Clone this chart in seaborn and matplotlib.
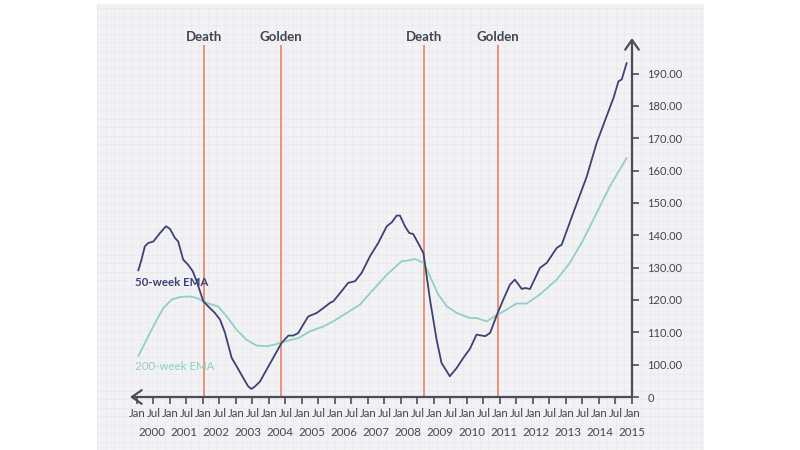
import numpy as np
import pandas as pd
import matplotlib
matplotlib.use("Agg")
import matplotlib.pyplot as plt
import seaborn as sns

# ---------------- data ----------------
ema50_x = [2000.04, 2000.14, 2000.24, 2000.34, 2000.50, 2000.70, 2000.88, 2001.00, 2001.15, 2001.25,
           2001.40, 2001.55, 2001.69, 2001.81, 2002.01, 2002.21, 2002.36, 2002.52, 2002.67, 2002.87,
           2003.02, 2003.22, 2003.37, 2003.47, 2003.58, 2003.73, 2003.93, 2004.13, 2004.38, 2004.59,
           2004.74, 2004.89, 2005.04, 2005.19, 2005.45, 2005.65, 2005.85, 2005.95, 2006.20, 2006.40,
           2006.61, 2006.81, 2007.06, 2007.31, 2007.57, 2007.72, 2007.87, 2007.97, 2008.12, 2008.25,
           2008.37, 2008.52, 2008.68, 2008.73, 2008.88, 2009.08, 2009.23, 2009.39, 2009.48, 2009.69,
           2009.89, 2010.09, 2010.29, 2010.55, 2010.70, 2010.93, 2011.10, 2011.30, 2011.45, 2011.66,
           2011.76, 2011.91, 2012.21, 2012.42, 2012.72, 2012.87, 2013.22, 2013.63, 2013.93, 2014.23,
           2014.44, 2014.59, 2014.69, 2014.84]
ema50_y = [129.1, 132.5, 136.6, 137.6, 138.1, 140.7, 142.8, 142.0, 139.2, 138.1,
           132.5, 130.9, 128.9, 125.8, 119.6, 117.5, 116.0, 113.9, 109.8, 102.1,
           99.5, 95.9, 93.3, 92.5, 93.3, 94.8, 98.5, 102.1, 106.7, 109.0,
           109.0, 109.8, 112.4, 114.9, 116.0, 117.5, 119.1, 119.6, 122.7, 125.3,
           125.8, 128.4, 133.5, 137.6, 142.8, 144.0, 146.1, 146.1, 142.8, 140.7,
           140.4, 137.6, 134.5, 130.9, 120.1, 107.7, 100.5, 97.9, 96.4, 99.0,
           102.1, 104.9, 109.3, 108.8, 109.8, 116.0, 120.1, 124.7, 126.3, 123.4,
           123.7, 123.4, 129.9, 131.5, 136.1, 137.1, 146.9, 158.2, 168.6, 176.8,
           182.5, 187.6, 188.2, 193.3]

ema200_x = [2000.04, 2000.29, 2000.55, 2000.80, 2001.05, 2001.30, 2001.61, 2001.81, 2002.01, 2002.26,
            2002.46, 2002.72, 2003.02, 2003.32, 2003.63, 2003.93, 2004.18, 2004.38, 2004.64, 2004.89,
            2005.24, 2005.65, 2005.95, 2006.36, 2006.76, 2007.16, 2007.57, 2008.02, 2008.22, 2008.42,
            2008.68, 2008.88, 2009.13, 2009.39, 2009.69, 2010.09, 2010.29, 2010.60, 2010.93, 2011.20,
            2011.50, 2011.81, 2012.21, 2012.72, 2013.12, 2013.53, 2013.93, 2014.33, 2014.84]
ema200_y = [102.6, 107.7, 112.9, 117.5, 120.1, 120.9, 121.1, 120.6, 119.6, 118.6,
            118.0, 114.9, 110.8, 107.7, 105.9, 105.7, 106.2, 106.9, 107.6, 108.2,
            110.3, 111.8, 113.4, 116.0, 118.6, 123.2, 127.8, 132.0, 132.2, 132.7,
            131.5, 127.3, 121.7, 118.0, 116.0, 114.4, 114.4, 113.4, 115.5, 117.0,
            118.9, 118.9, 121.7, 126.3, 131.5, 138.7, 146.9, 155.2, 163.9]

cross_x = [2002.03, 2004.36, 2008.70, 2010.94]
cross_labels = ["Death", "Golden", "Death", "Golden"]

xtick_pos = [2000 + 0.5 * i for i in range(31)]
xtick_labels = ["Jan" if i % 2 == 0 else "Jul" for i in range(31)]
year_labels = [str(y) for y in range(2000, 2016)]

ytick_pos = [90, 100, 110, 120, 130, 140, 150, 160, 170, 180, 190]
ytick_labels = ["0", "100.00", "110.00", "120.00", "130.00", "140.00", "150.00",
                "160.00", "170.00", "180.00", "190.00"]

series_names = ["50-week EMA", "200-week EMA"]

# ---------------- style ----------------
sns.set_theme(style="white")
plt.rcParams["font.family"] = ["Lato", "DejaVu Sans"]

NAVY = "#3e4272"
TEAL = "#8fd0c3"
RED = "#ea8a6c"
AX = "#4d4d57"
TXT = "#44444c"

df = pd.concat([
    pd.DataFrame({"year": ema50_x, "value": ema50_y, "series": series_names[0]}),
    pd.DataFrame({"year": ema200_x, "value": ema200_y, "series": series_names[1]}),
], ignore_index=True)

fig = plt.figure(figsize=(8, 4.5), dpi=100)
fig.patch.set_facecolor("white")

# grid-paper panel
bg = fig.add_axes([97 / 800, 0, 607 / 800, 446 / 450])
bg.set_facecolor("#f2f2f5")
bg.set_xlim(0, 607)
bg.set_ylim(0, 446)
bg.set_xticks(np.arange(0, 607, 8.5))
bg.set_yticks(np.arange(0, 446, 8.5))
bg.grid(True, color="#e8e8ed", lw=0.5)
bg.tick_params(length=0, labelbottom=False, labelleft=False)
for s in bg.spines.values():
    s.set_visible(False)

ax = fig.add_axes([130 / 800, 53 / 450, 502 / 800, 359 / 450])
ax.set_facecolor("none")

sns.lineplot(data=df, x="year", y="value", hue="series",
             palette={series_names[0]: NAVY, series_names[1]: TEAL},
             hue_order=series_names[::-1], legend=False, ax=ax, lw=1.3, sort=False)

ax.set_xlim(1999.79, 2015.0)
ax.set_ylim(90, 201)

ax.vlines(cross_x, 90, 198.9, color=RED, lw=1.3, zorder=1)
for xv, lab in zip(cross_x, cross_labels):
    ax.text(xv, 201.4, lab, ha="center", va="center", fontsize=9.5,
            fontweight="bold", color=TXT, clip_on=False)

ax.text(1999.94, 125.3, series_names[0], color=NAVY, fontsize=8.3,
        fontweight="bold", ha="left", va="center")
ax.text(1999.94, 99.3, series_names[1], color=TEAL, fontsize=8.3,
        fontweight="normal", ha="left", va="center")

# axes lines
for s in ax.spines.values():
    s.set_visible(False)
ax.annotate("", xy=(1, 1.0), xytext=(1, 0), xycoords="axes fraction",
            arrowprops=dict(arrowstyle="->,head_length=0.5,head_width=0.35",
                            color=AX, lw=1.6, shrinkA=0, shrinkB=0, mutation_scale=14))
ax.annotate("", xy=(0, 0), xytext=(1, 0), xycoords="axes fraction",
            arrowprops=dict(arrowstyle="->,head_length=0.5,head_width=0.35",
                            color=AX, lw=1.6, shrinkA=0, shrinkB=0, mutation_scale=14))

ax.set_xticks(xtick_pos)
ax.set_xticklabels(xtick_labels)
ax.set_yticks(ytick_pos)
ax.set_yticklabels(ytick_labels)
ax.yaxis.tick_right()
ax.tick_params(axis="x", direction="out", length=5, width=1.2, color=AX,
               labelsize=8.3, labelcolor=TXT, pad=3, bottom=True)
ax.tick_params(axis="y", direction="out", length=5, width=1.2, color=AX,
               labelsize=8, labelcolor=TXT, pad=6, right=True, left=False)
ax.set_xlabel("")
ax.set_ylabel("")

year_pos = np.linspace(2000.45, 2015.0, len(year_labels))
for xp, yl in zip(year_pos, year_labels):
    ax.text(xp, -0.0975, yl, transform=ax.get_xaxis_transform(), ha="center",
            va="center", fontsize=8.3, color=TXT, clip_on=False)

fig.savefig("out.png", dpi=100, facecolor="white")
